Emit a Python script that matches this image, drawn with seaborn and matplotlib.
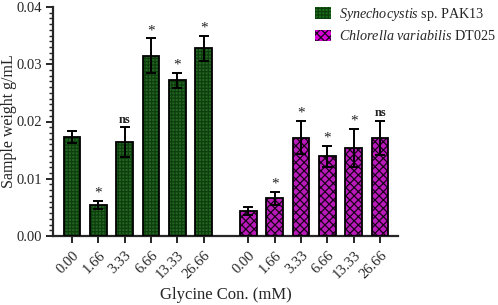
import numpy as np
import pandas as pd
import matplotlib
matplotlib.use("Agg")
import matplotlib.pyplot as plt
import seaborn as sns
from matplotlib.patches import Patch
from matplotlib.ticker import MultipleLocator

concentrations = ["0.00", "1.66", "3.33", "6.66", "13.33", "26.66"]
species = ["Synechocystis sp. PAK13", "Chlorella variabilis DT025"]
syn_mean = [0.0173, 0.0055, 0.0164, 0.0315, 0.0272, 0.0328]
syn_err = [0.0011, 0.0007, 0.0026, 0.0030, 0.0013, 0.0022]
syn_sig = ["", "*", "ns", "*", "*", "*"]
chl_mean = [0.0043, 0.0066, 0.0172, 0.0139, 0.0154, 0.0171]
chl_err = [0.0007, 0.0011, 0.0029, 0.0018, 0.0033, 0.0030]
chl_sig = ["", "*", "*", "*", "*", "ns"]

sns.set_style("ticks")
plt.rcParams["font.family"] = ["Liberation Serif", "DejaVu Serif"]
plt.rcParams["mathtext.fontset"] = "custom"
plt.rcParams["mathtext.rm"] = "Liberation Serif"
plt.rcParams["mathtext.it"] = "Liberation Serif:italic"
plt.rcParams["hatch.linewidth"] = 0.9

gap = 6.7
n = len(concentrations)
pos = list(np.arange(n)) + list(np.arange(n) + gap)
df = pd.DataFrame({
    "pos": pos,
    "val": syn_mean + chl_mean,
    "err": syn_err + chl_err,
    "sig": syn_sig + chl_sig,
    "species": [species[0]] * n + [species[1]] * n,
    "label": concentrations + concentrations,
})

fig = plt.figure(figsize=(4.98, 3.05), dpi=100)
ax = fig.add_axes([53 / 498, 1 - 236 / 305, 345 / 498, 229 / 305])

face = {species[0]: "#1c6e1c", species[1]: "#d400d4"}
hatches = {species[0]: "+++++", species[1]: "xxxx"}
hatchcol = {species[0]: "#0c3f0c", species[1]: "#1a001a"}

sns.barplot(data=df, x="pos", y="val", hue="species", native_scale=True,
            dodge=False, width=0.63, palette=face, edgecolor="black",
            linewidth=1.2, legend=False, errorbar=None, ax=ax)

for patch in ax.patches:
    cx = patch.get_x() + patch.get_width() / 2
    sp = species[0] if cx < gap - 0.5 else species[1]
    patch.set_hatch(hatches[sp])
    patch.set_edgecolor(hatchcol[sp])
    patch.set_linewidth(0)
for patch in list(ax.patches):
    r = plt.Rectangle((patch.get_x(), patch.get_y()), patch.get_width(), patch.get_height(),
                      fill=False, edgecolor="black", linewidth=1.3, zorder=3)
    ax.add_patch(r)

ax.errorbar(df["pos"], df["val"], yerr=df["err"], fmt="none", ecolor="black",
            elinewidth=1.4, capsize=3.5, capthick=1.4, zorder=4)

for x, v, e, s in zip(df["pos"], df["val"], df["err"], df["sig"]):
    if s == "*":
        ax.text(x, v + e + 0.0002, "*", ha="center", va="bottom", fontsize=11, color="#222222")
    elif s == "ns":
        ax.text(x, v + e + 0.0003, "ns", ha="center", va="bottom", fontsize=9,
                fontweight="bold", color="#222222")

ax.set_xlim(-0.72, 12.38)
ax.set_ylim(0, 0.04)
ax.yaxis.set_minor_locator(MultipleLocator(0.001))
ax.set_yticks([0, 0.01, 0.02, 0.03, 0.04])
ax.set_yticklabels(["0.00", "0.01", "0.02", "0.03", "0.04"], fontsize=10.5)
ax.set_xticks(df["pos"])
ax.set_xticklabels(df["label"], rotation=45, ha="right", rotation_mode="anchor", fontsize=10.5)
ax.tick_params(axis="both", which="major", width=1.4, length=5)
ax.tick_params(axis="y", which="minor", width=1.0, length=3)
ax.tick_params(axis="x", pad=4)
ax.tick_params(axis="y", pad=3)
for sp in ["left", "bottom"]:
    ax.spines[sp].set_linewidth(1.6)
sns.despine(ax=ax)

ax.set_xlabel("Glycine Con. (mM)", fontsize=12)
ax.set_ylabel("Sample weight g/mL", fontsize=11.5)
ax.xaxis.set_label_coords(0.5, -(295 - 236) / 229 - 0.0, transform=ax.transAxes)
ax.xaxis.label.set_va("center")
ax.yaxis.set_label_coords(-(53 - 9) / 345, 0.5, transform=ax.transAxes)
ax.yaxis.label.set_va("center")

handles = [
    Patch(facecolor=face[species[0]], hatch=hatches[species[0]], edgecolor=hatchcol[species[0]], linewidth=0),
    Patch(facecolor=face[species[1]], hatch=hatches[species[1]], edgecolor=hatchcol[species[1]], linewidth=0),
]
labels = [r"$\it{Synechocystis}$ sp. PAK13", r"$\it{Chlorella\ variabilis}$ DT025"]
leg = fig.legend(handles, labels, loc="upper left", bbox_to_anchor=(315 / 498, 1 - 6 / 305),
                 frameon=False, fontsize=10.2, handlelength=1.1, handleheight=0.9,
                 handletextpad=0.6, labelspacing=0.45, borderaxespad=0, borderpad=0)

fig.savefig("out.png", dpi=100)
